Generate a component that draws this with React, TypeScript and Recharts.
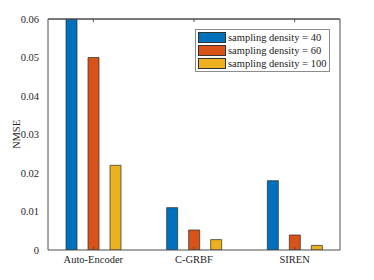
import { Bar, BarChart, ReferenceLine, XAxis, YAxis } from "recharts";

const METHODS = ["Auto-Encoder", "C-GRBF", "SIREN"];
const DENSITY_40 = [0.06, 0.011, 0.018];
const DENSITY_60 = [0.05, 0.0052, 0.0039];
const DENSITY_100 = [0.022, 0.0027, 0.0012];
const Y_TICKS = [0, 0.01, 0.02, 0.03, 0.04, 0.05, 0.06];

const SERIES = [
  { key: "d40", label: "sampling density = 40", color: "#0072BD" },
  { key: "d60", label: "sampling density = 60", color: "#D95319" },
  { key: "d100", label: "sampling density = 100", color: "#EDB120" },
];

const FONT = "'Liberation Serif', 'Times New Roman', serif";
const AXIS = "#4d4d4d";

const data = METHODS.map((name, i) => ({
  name,
  d40: DENSITY_40[i],
  d60: DENSITY_60[i],
  d100: DENSITY_100[i],
}));

const fmt = (v: number) => (v === 0 ? "0" : v.toFixed(2));
const blank = () => "";

function LegendBox() {
  return (
    <div
      style={{
        position: "absolute",
        left: 195,
        top: 29,
        border: "1px solid #8c8c8c",
        background: "#fff",
        padding: "1px 3px 1px 2px",
        fontFamily: FONT,
        fontSize: 10.5,
        color: "#222",
        lineHeight: "13px",
      }}
    >
      {SERIES.map((s) => (
        <div key={s.key} style={{ display: "flex", alignItems: "center" }}>
          <div
            style={{
              width: 26,
              height: 9,
              background: s.color,
              border: "1px solid #333",
              marginRight: 2,
            }}
          />
          <span style={{ whiteSpace: "nowrap" }}>{s.label}</span>
        </div>
      ))}
    </div>
  );
}

export default function App() {
  return (
    <div style={{ position: "absolute", left: 0, top: 0, background: "#fff" }}>
      <BarChart
        width={374}
        height={280}
        data={data}
        margin={{ top: 19, right: 34, bottom: 0, left: 0 }}
        barSize={11}
        barGap={11}
      >
        {/* inward tick marks, matlab style box */}
        <XAxis
          xAxisId="btm"
          dataKey="name"
          height={1}
          mirror
          tickFormatter={blank}
          tickSize={3}
          stroke={AXIS}
          padding={{ left: -5, right: -5 }}
        />
        <XAxis
          dataKey="name"
          height={30}
          tickLine={false}
          axisLine={false}
          tick={{ fontFamily: FONT, fontSize: 10.5, fill: "#262626" }}
          tickMargin={0}
          padding={{ left: -5, right: -5 }}
        />
        <XAxis
          xAxisId="top"
          orientation="top"
          dataKey="name"
          height={1}
          mirror
          tickFormatter={blank}
          tickSize={3}
          stroke={AXIS}
          padding={{ left: -5, right: -5 }}
        />
        <YAxis
          yAxisId="lin"
          width={1}
          mirror
          domain={[0, 0.06]}
          ticks={Y_TICKS}
          tickFormatter={blank}
          tickSize={3}
          stroke={AXIS}
        />
        <YAxis
          width={48}
          domain={[0, 0.06]}
          ticks={Y_TICKS}
          allowDataOverflow
          tickLine={false}
          axisLine={false}
          tickFormatter={fmt}
          tick={{ fontFamily: FONT, fontSize: 10.5, fill: "#262626" }}
          tickMargin={3}
          label={{
            value: "NMSE",
            angle: -90,
            position: "center",
            dx: -8,
            style: { fontFamily: FONT, fontSize: 10.5, fill: "#262626" },
          }}
        />
        <YAxis
          yAxisId="right"
          orientation="right"
          width={1}
          mirror
          domain={[0, 0.06]}
          ticks={Y_TICKS}
          tickFormatter={blank}
          tickSize={3}
          stroke={AXIS}
        />
        {SERIES.map((s) => (
          <Bar
            key={s.key}
            dataKey={s.key}
            name={s.label}
            fill={s.color}
            stroke="#2b2b2b"
            strokeWidth={0.7}
            isAnimationActive={false}
          />
        ))}
        <ReferenceLine y={0.06} stroke={AXIS} />
      </BarChart>
      <LegendBox />
    </div>
  );
}
